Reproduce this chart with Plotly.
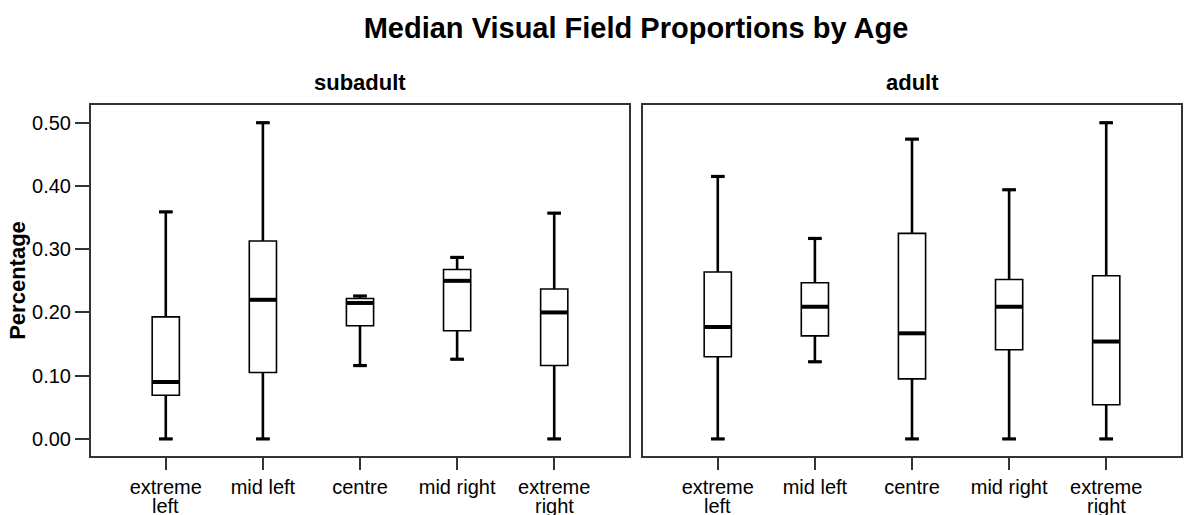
import plotly.graph_objects as go

# ---------------- data ----------------
categories = ["extreme left", "mid left", "centre", "mid right", "extreme right"]
tick_line1 = ["extreme", "mid left", "centre", "mid right", "extreme"]
tick_line2 = ["left", "", "", "", "right"]
panel_names = ["subadult", "adult"]

sub_lower = [0.000, 0.000, 0.116, 0.126, 0.000]
sub_q1 = [0.069, 0.105, 0.179, 0.171, 0.116]
sub_median = [0.090, 0.220, 0.215, 0.250, 0.200]
sub_q3 = [0.193, 0.313, 0.222, 0.268, 0.237]
sub_upper = [0.359, 0.500, 0.226, 0.287, 0.357]

adu_lower = [0.000, 0.122, 0.000, 0.000, 0.000]
adu_q1 = [0.130, 0.163, 0.095, 0.141, 0.054]
adu_median = [0.177, 0.209, 0.167, 0.209, 0.154]
adu_q3 = [0.264, 0.247, 0.325, 0.252, 0.258]
adu_upper = [0.415, 0.317, 0.474, 0.394, 0.500]

y_ticks = [0.0, 0.1, 0.2, 0.3, 0.4, 0.5]

# ---------------- figure ----------------
positions = list(range(len(categories)))
BOX_W = 0.28
CAP_HALF = 0.07
MED_HALF = 0.135
FONT = "Liberation Sans, Arial, sans-serif"

panels = [
    ("x", "y", sub_lower, sub_q1, sub_median, sub_q3, sub_upper),
    ("x2", "y2", adu_lower, adu_q1, adu_median, adu_q3, adu_upper),
]

fig = go.Figure()
for xa, ya, lo, q1, med, q3, up in panels:
    fig.add_trace(go.Box(
        x=positions, lowerfence=lo, q1=q1, median=med, q3=q3, upperfence=up,
        xaxis=xa, yaxis=ya, width=BOX_W, whiskerwidth=0.5,
        fillcolor="white", line=dict(color="black", width=1.6),
        boxpoints=False, hoverinfo="skip", showlegend=False,
    ))
    # thicker whisker stems
    sx, sy = [], []
    for i, p in enumerate(positions):
        if up[i] > q3[i]:
            sx += [p, p, None]
            sy += [q3[i], up[i], None]
        if lo[i] < q1[i]:
            sx += [p, p, None]
            sy += [lo[i], q1[i], None]
    fig.add_trace(go.Scatter(x=sx, y=sy, mode="lines", xaxis=xa, yaxis=ya,
                             line=dict(color="black", width=2.6),
                             hoverinfo="skip", showlegend=False))
    # caps
    cx, cy = [], []
    for i, p in enumerate(positions):
        cx += [p - CAP_HALF, p + CAP_HALF, None, p - CAP_HALF, p + CAP_HALF, None]
        cy += [up[i], up[i], None, lo[i], lo[i], None]
    fig.add_trace(go.Scatter(x=cx, y=cy, mode="lines", xaxis=xa, yaxis=ya,
                             line=dict(color="black", width=3.2),
                             hoverinfo="skip", showlegend=False))
    # medians
    mx, my = [], []
    for i, p in enumerate(positions):
        mx += [p - MED_HALF, p + MED_HALF, None]
        my += [med[i], med[i], None]
    fig.add_trace(go.Scatter(x=mx, y=my, mode="lines", xaxis=xa, yaxis=ya,
                             line=dict(color="black", width=4),
                             hoverinfo="skip", showlegend=False))

W, H = 1184, 515
dom1 = [91 / W, 629 / W]
dom2 = [643 / W, 1181 / W]
ydom = [(H - 456) / H, (H - 105) / H]

axis_common = dict(
    showline=True, mirror=True, linecolor="#333333", linewidth=2,
    showgrid=False, zeroline=False,
)
xcommon = dict(
    axis_common, range=[-0.77, 4.77], tickmode="array", tickvals=positions,
    ticktext=tick_line1, ticks="outside", ticklen=12, tickwidth=2,
    tickcolor="#333333", tickfont=dict(family=FONT, size=20, color="black"),
)

fig.update_layout(
    width=W, height=H,
    margin=dict(l=0, r=0, t=0, b=0),
    paper_bgcolor="white", plot_bgcolor="white",
    font=dict(family=FONT, color="black"),
    title=dict(text="Median Visual Field Proportions by Age",
               x=(dom1[0] + dom2[1]) / 2, y=1 - 28 / H,
               xanchor="center", yanchor="middle",
               font=dict(family=FONT, size=29, weight="bold", color="black")),
    xaxis=dict(xcommon, domain=dom1, anchor="y"),
    xaxis2=dict(xcommon, domain=dom2, anchor="y2"),
    yaxis=dict(axis_common, domain=ydom, anchor="x", range=[-0.027, 0.528],
               tickmode="array", tickvals=y_ticks, tickformat=".2f",
               ticks="outside", ticklen=14, tickwidth=2, tickcolor="#333333",
               tickfont=dict(family=FONT, size=20, color="black"),
               title=dict(text="Percentage", standoff=0,
                          font=dict(family=FONT, size=22, weight="bold", color="black"))),
    yaxis2=dict(axis_common, domain=ydom, anchor="x2", matches="y",
                range=[-0.027, 0.528], showticklabels=False, ticks=""),
)

ann = []
for name, dom in zip(panel_names, [dom1, dom2]):
    ann.append(dict(text=name, x=(dom[0] + dom[1]) / 2, y=1 - 82 / H,
                    xref="paper", yref="paper", xanchor="center", yanchor="middle",
                    showarrow=False,
                    font=dict(family=FONT, size=22, weight="bold", color="black")))
for xr in ["x", "x2"]:
    for p, t in zip(positions, tick_line2):
        if t:
            ann.append(dict(text=t, x=p, xref=xr, y=1 - 506 / H, yref="paper",
                            xanchor="center", yanchor="middle", showarrow=False,
                            font=dict(family=FONT, size=20, color="black")))
fig.update_layout(annotations=ann)

fig.write_html("out.html")
